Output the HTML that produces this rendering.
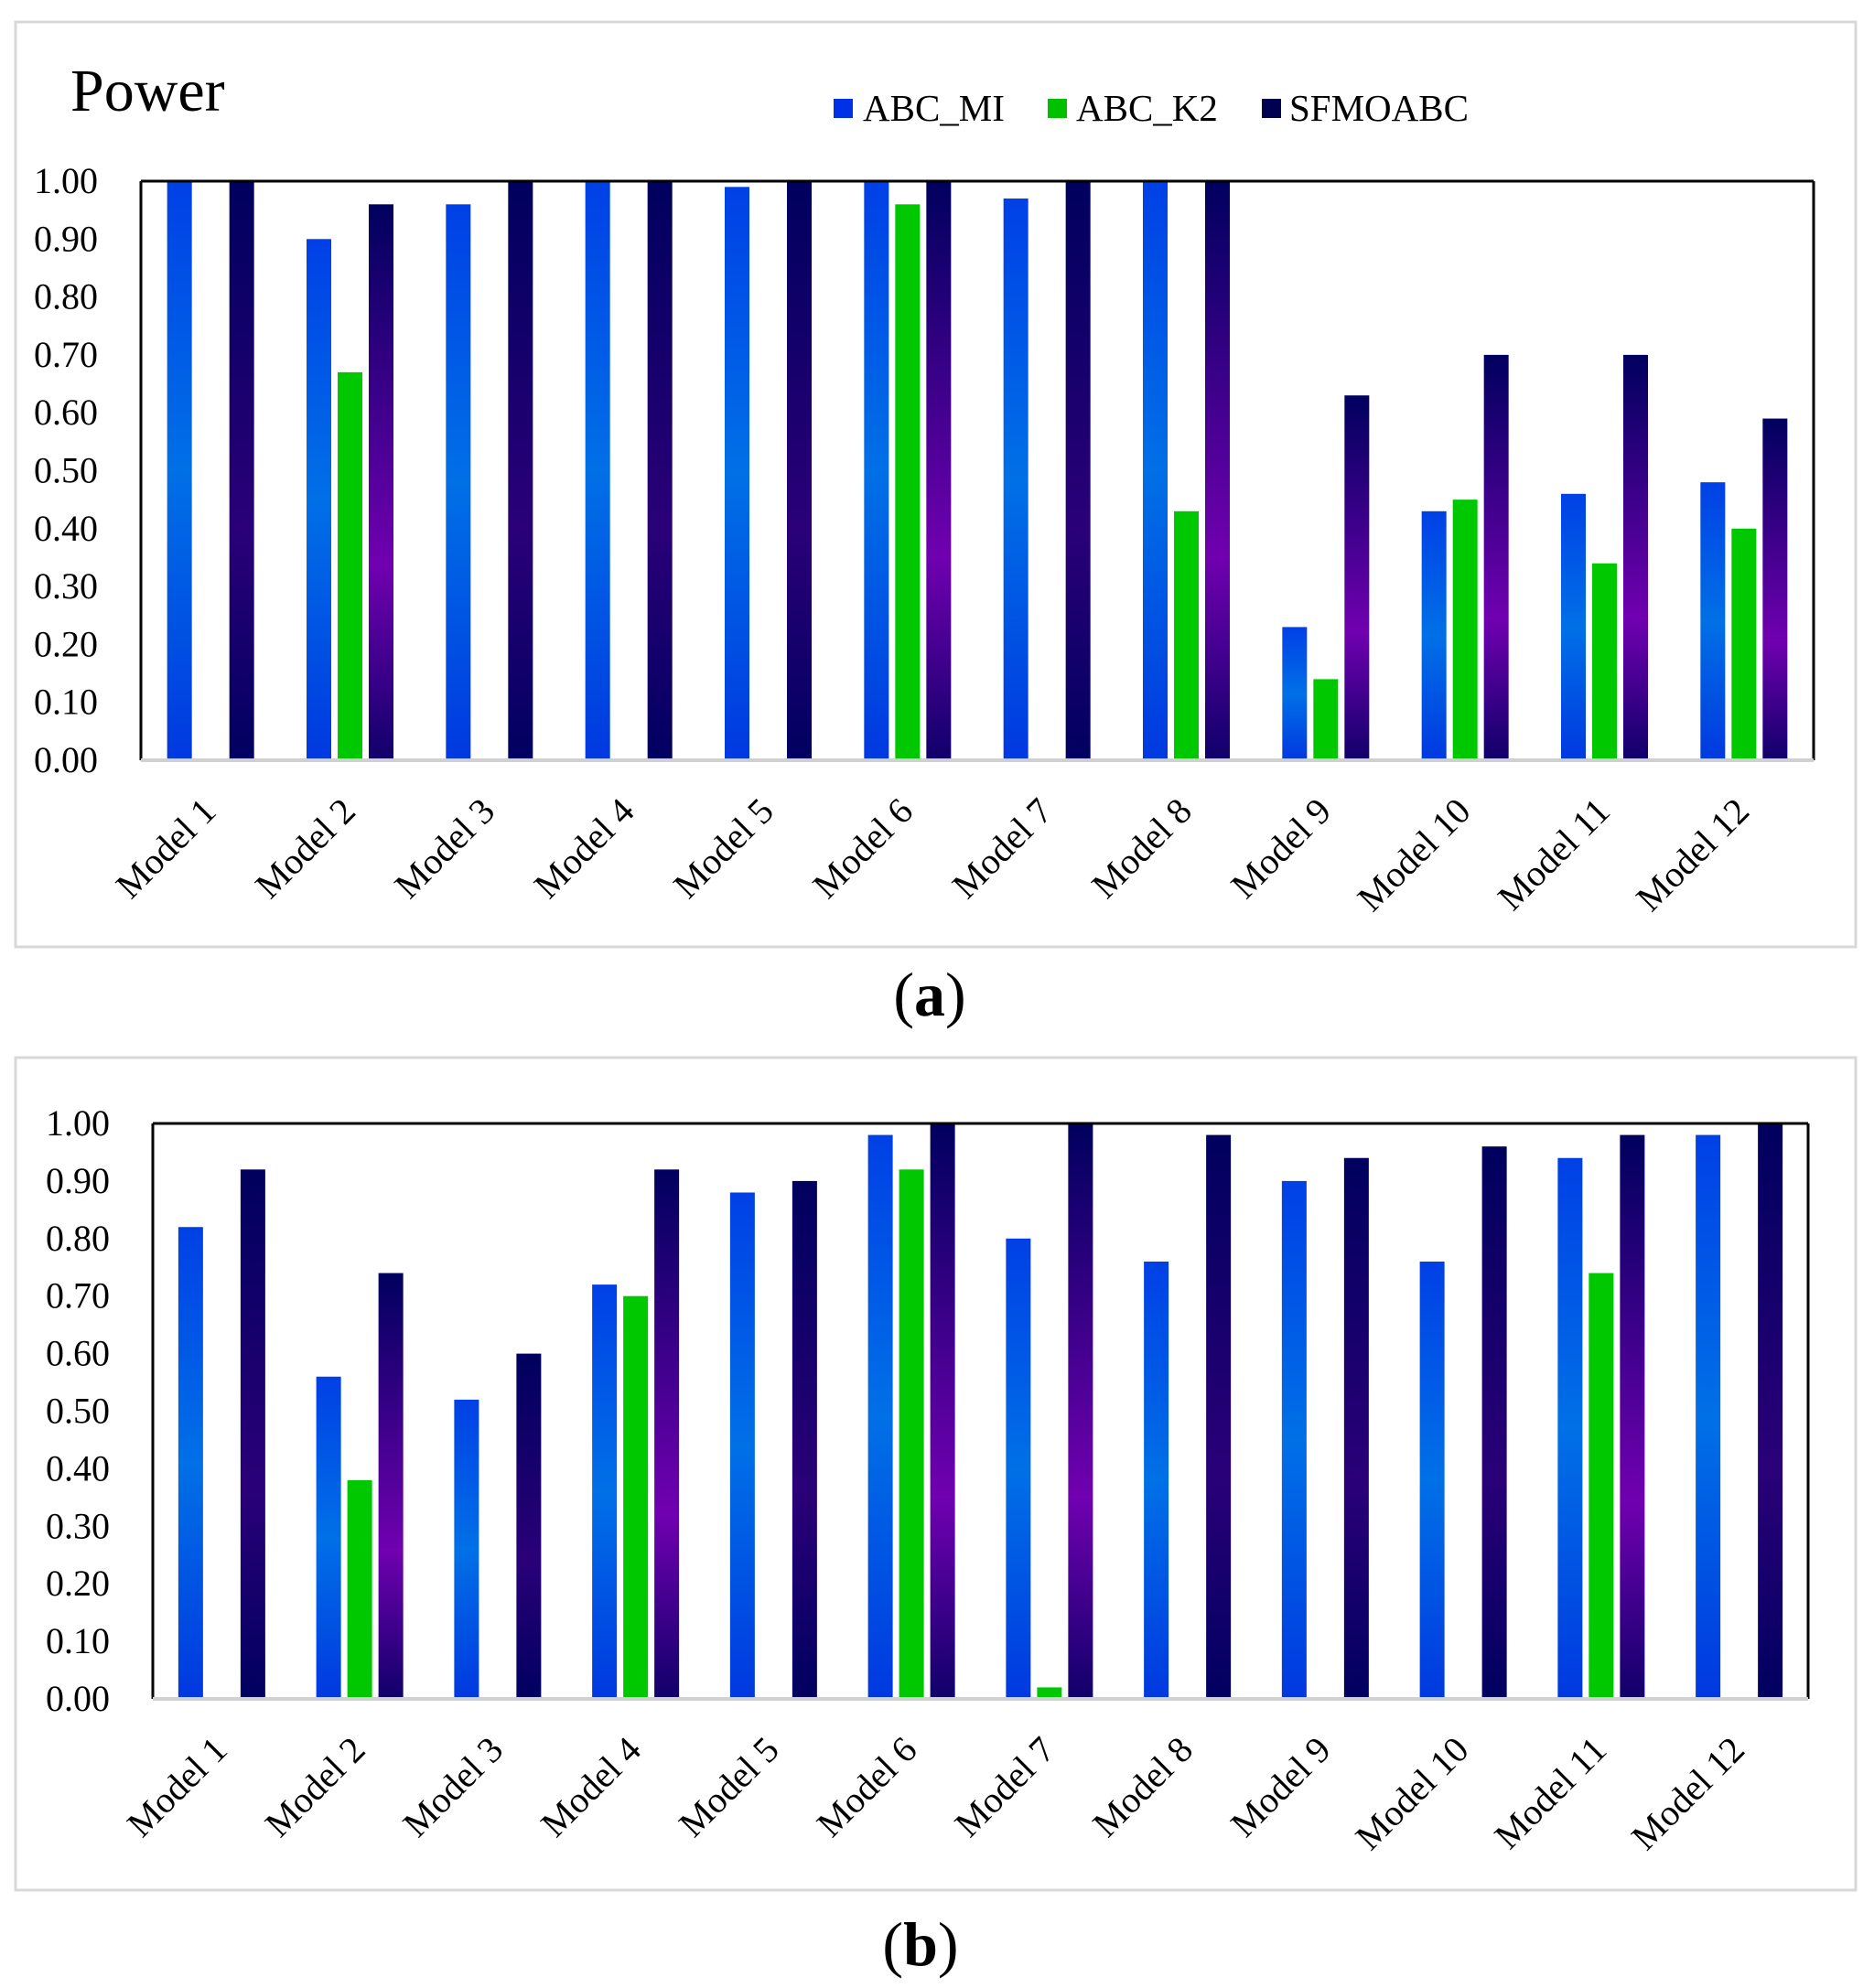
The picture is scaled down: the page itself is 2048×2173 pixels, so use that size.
<!DOCTYPE html>
<html><head><meta charset="utf-8">
<style>
html,body{margin:0;padding:0;background:#fff;}
svg{display:block;}
text{font-family:"Liberation Serif",serif;fill:#000;}
</style></head>
<body>
<svg id="s" width="2048" height="2173" viewBox="0 0 2048 2173" xmlns="http://www.w3.org/2000/svg">
<defs>
<linearGradient id="gb" x1="0" y1="0" x2="0" y2="1">
<stop offset="0" stop-color="#0040e6"/><stop offset="0.5" stop-color="#0070e6"/><stop offset="1" stop-color="#0038e0"/>
</linearGradient>
<linearGradient id="gd" x1="0" y1="0" x2="0" y2="1">
<stop offset="0" stop-color="#00005e"/><stop offset="0.6" stop-color="#2a0078"/><stop offset="1" stop-color="#000060"/>
</linearGradient>
<linearGradient id="gp" x1="0" y1="0" x2="0" y2="1">
<stop offset="0" stop-color="#00005e"/><stop offset="0.65" stop-color="#7000b0"/><stop offset="1" stop-color="#10006a"/>
</linearGradient>
</defs>
<rect x="17" y="24" width="2011" height="1011" fill="#fff" stroke="#d8d8d8" stroke-width="3"/>
<rect x="17" y="1156" width="2011" height="910" fill="#fff" stroke="#d8d8d8" stroke-width="3"/>
<text x="77" y="121" font-size="66">Power</text>
<rect x="911" y="108" width="21" height="21" fill="#0030e8"/>
<text x="943" y="132" font-size="41">ABC_MI</text>
<rect x="1145" y="108" width="21" height="21" fill="#00c000"/>
<text x="1176" y="132" font-size="41">ABC_K2</text>
<rect x="1379" y="108" width="21" height="21" fill="#000050"/>
<text x="1409" y="132" font-size="41">SFMOABC</text>
<text x="1016" y="1110" font-size="68" text-anchor="middle">(<tspan font-weight="bold">a</tspan>)</text>
<text x="1006" y="2148" font-size="68" text-anchor="middle">(<tspan font-weight="bold">b</tspan>)</text>
<g id="g"></g>
</svg>
<script>
var NS="http://www.w3.org/2000/svg",g=document.getElementById('g');
function el(t,a,txt){var e=document.createElementNS(NS,t);for(var k in a)e.setAttribute(k,a[k]);if(txt!=null)e.textContent=txt;g.appendChild(e);return e;}
function chart(L,R,T,B,mi,k2,sf){
 var H=B-T,gw=(R-L)/12,bw=27,off=34;
 for(var i=0;i<=10;i++){var y=B-H*i/10;el('text',{x:L-47,y:y+13,'font-size':40,'text-anchor':'end'},(i/10).toFixed(2));}
 for(var j=0;j<12;j++){
  var c=L+gw*(j+0.5);
  var sets=[[mi[j],c-off,'url(#gb)'],[k2[j],c,'#00c800'],[sf[j],c+off,k2[j]>0?'url(#gp)':'url(#gd)']];
  sets.forEach(function(s){if(s[0]>0){var h=H*s[0];el('rect',{x:s[1]-bw/2,y:B-h,width:bw,height:h,fill:s[2]});}});
  var tx=c+8,ty=B+58;
  el('text',{x:tx,y:ty,'font-size':40,'text-anchor':'end',transform:'rotate(-45 '+tx+' '+ty+')'},'Model '+(j+1));
 }
 el('line',{x1:L,y1:T,x2:R,y2:T,stroke:'#000','stroke-width':3});
 el('line',{x1:R,y1:T,x2:R,y2:B,stroke:'#000','stroke-width':3});
 el('line',{x1:L,y1:T,x2:L,y2:B,stroke:'#000','stroke-width':3});
 el('line',{x1:L,y1:B,x2:R,y2:B,stroke:'#d0d0d0','stroke-width':4});
}
chart(154,1982,198,831,
 [1,.9,.96,1,.99,1,.97,1,.23,.43,.46,.48],
 [0,.67,0,0,0,.96,0,.43,.14,.45,.34,.40],
 [1,.96,1,1,1,1,1,1,.63,.70,.70,.59]);
chart(167,1976,1228,1857,
 [.82,.56,.52,.72,.88,.98,.80,.76,.90,.76,.94,.98],
 [0,.38,0,.70,0,.92,.02,0,0,0,.74,0],
 [.92,.74,.60,.92,.90,1,1,.98,.94,.96,.98,1]);
</script>
</body></html>
